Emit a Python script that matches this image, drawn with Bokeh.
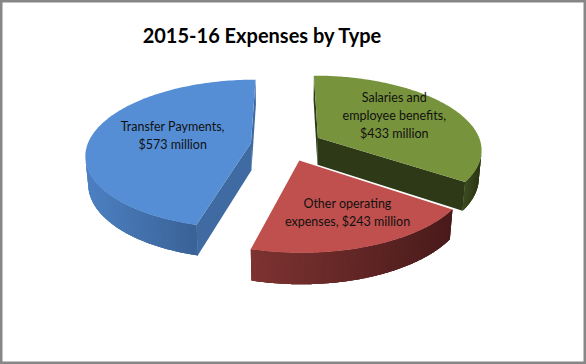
import numpy as np
from bokeh.plotting import figure
from bokeh.models import Range1d, ColumnDataSource
from bokeh.core.properties import value
from bokeh.embed import file_html
from bokeh.resources import INLINE

# ---- data ----
categories = ["Salaries and employee benefits", "Other operating expenses", "Transfer Payments"]
values = [433, 243, 573]
label_texts = ["Salaries and\nemployee benefits,\n$433 million",
               "Other operating\nexpenses, $243 million",
               "Transfer Payments,\n$573 million"]
title_text = "2015-16 Expenses by Type"

# ---- styles ----
top_colors = ["#77933C", "#C0504D", "#558ED5"]
wall_light = ["#3c4a1f", "#7d3331", "#4d80c2"]
wall_dark = ["#2c3715", "#4a1b1b", "#3a6398"]
radial_colors = ["#2e3a17", "#5a2525", "#3f6aa2"]
label_r = [0.60, 0.654, 0.50]
label_shift = [5.0, 2.5, -3.8]

# ---- 3D projection settings ----
L = 6.0
SPHI = 0.448
CPHI = np.sqrt(1 - SPHI ** 2)
F = 981.6
CX, CY = 286.0, 144.5
EXPLODE = 0.22
H = 0.19
CAM = np.array([0.0, -L * CPHI, L * SPHI])


def proj(X, Y, Z):
    X = np.asarray(X, float); Y = np.asarray(Y, float); Z = np.asarray(Z, float)
    dep = L + Y * CPHI - Z * SPHI
    return CX + F * X / dep, CY - F * (Y * SPHI + Z * CPHI) / dep


def mix(c1, c2, t):
    a = [int(c1[i:i + 2], 16) for i in (1, 3, 5)]
    b = [int(c2[i:i + 2], 16) for i in (1, 3, 5)]
    return "#%02x%02x%02x" % tuple(int(round(a[k] + (b[k] - a[k]) * t)) for k in range(3))


total = float(sum(values))
slices = []
start = 90.0
for i, v in enumerate(values):
    sweep = 360.0 * v / total
    a_hi = start
    a_lo = start - sweep
    mid = np.radians((a_hi + a_lo) / 2)
    ox, oy = EXPLODE * np.cos(mid), EXPLODE * np.sin(mid)
    slices.append(dict(i=i, lo=np.radians(a_lo), hi=np.radians(a_hi), mid=mid, ox=ox, oy=oy))
    start = a_lo

# painter order: farthest apex first
order = sorted(slices, key=lambda s: -s["oy"])

xs, ys, cols = [], [], []
label_x, label_y = [None] * 3, [None] * 3
for s in order:
    i = s["i"]
    ox, oy = s["ox"], s["oy"]
    th = np.linspace(s["lo"], s["hi"], 140)
    rx, ry = ox + np.cos(th), oy + np.sin(th)
    # radial faces
    for ang, sign in ((s["lo"], -1), (s["hi"], 1)):
        n = np.array([np.cos(ang + sign * np.pi / 2), np.sin(ang + sign * np.pi / 2), 0.0])
        p0 = np.array([ox, oy, 0.0])
        if np.dot(CAM - p0, n) > 0:
            X = [ox, ox + np.cos(ang), ox + np.cos(ang), ox]
            Y = [oy, oy + np.sin(ang), oy + np.sin(ang), oy]
            Z = [0, 0, -H, -H]
            px, py = proj(X, Y, Z)
            xs.append(list(px)); ys.append(list(py)); cols.append(radial_colors[i])
    # outer wall: visible angular indices
    vis = []
    for k in range(len(th)):
        pm = np.array([rx[k], ry[k], 0.0])
        n = np.array([np.cos(th[k]), np.sin(th[k]), 0.0])
        vis.append(np.dot(CAM - pm, n) > 0)
    idx = [k for k in range(len(th)) if vis[k]]
    if len(idx) > 1:
        k0, k1 = idx[0], idx[-1]
        # base wall polygon (covers seams)
        tx, ty = proj(rx[k0:k1 + 1], ry[k0:k1 + 1], np.zeros(k1 - k0 + 1))
        bx, by = proj(rx[k0:k1 + 1][::-1], ry[k0:k1 + 1][::-1], np.full(k1 - k0 + 1, -H))
        xs.append(list(tx) + list(bx)); ys.append(list(ty) + list(by))
        cols.append(mix(wall_light[i], wall_dark[i], 0.5))
        segs = []
        for k in range(k0, k1):
            k2 = min(k + 2, k1)
            X = np.concatenate([rx[k:k2 + 1], rx[k:k2 + 1][::-1]])
            Y = np.concatenate([ry[k:k2 + 1], ry[k:k2 + 1][::-1]])
            Z = np.concatenate([np.zeros(k2 - k + 1), np.full(k2 - k + 1, -H)])
            px, py = proj(X, Y, Z)
            segs.append((px, py))
        cx_all = [np.mean(sp[0]) for sp in segs]
        lo_x, hi_x = min(cx_all), max(cx_all)
        for (px, py), cxm in zip(segs, cx_all):
            t = 0 if hi_x == lo_x else (cxm - lo_x) / (hi_x - lo_x)
            xs.append(list(px)); ys.append(list(py)); cols.append(mix(wall_light[i], wall_dark[i], t))
    # top face
    X = np.concatenate([[ox], rx])
    Y = np.concatenate([[oy], ry])
    px, py = proj(X, Y, np.zeros_like(X))
    xs.append(list(px)); ys.append(list(py)); cols.append(top_colors[i])
    la = s["mid"] + np.radians(label_shift[i])
    lx, ly = proj(ox + label_r[i] * np.cos(la), oy + label_r[i] * np.sin(la), 0.0)
    label_x[i], label_y[i] = float(lx), float(ly)

p = figure(width=586, height=364, x_range=Range1d(0, 586), y_range=Range1d(364, 0),
           output_backend="svg", toolbar_location=None, x_axis_type=None, y_axis_type=None,
           min_border=0)
p.grid.visible = False
p.background_fill_color = "white"
p.border_fill_color = "white"
p.outline_line_color = "#878787"
p.outline_line_width = 4

src = ColumnDataSource(dict(xs=xs, ys=ys, c=cols))
p.patches("xs", "ys", source=src, fill_color="c", line_color=None)

p.text(x=[262], y=[34], text=[title_text], text_align="center", text_baseline="alphabetic",
       text_font=value("Lato"), text_font_style="bold", text_font_size="20px", text_color="#000000")

lsrc = ColumnDataSource(dict(x=label_x, y=label_y, t=label_texts))
p.text(x="x", y="y", text="t", source=lsrc, text_align="center", text_baseline="middle",
       text_font=value("Lato"), text_font_size="12.5px", text_color="#111111", text_line_height=1.2)

open("out.html", "w").write(file_html(p, INLINE))
